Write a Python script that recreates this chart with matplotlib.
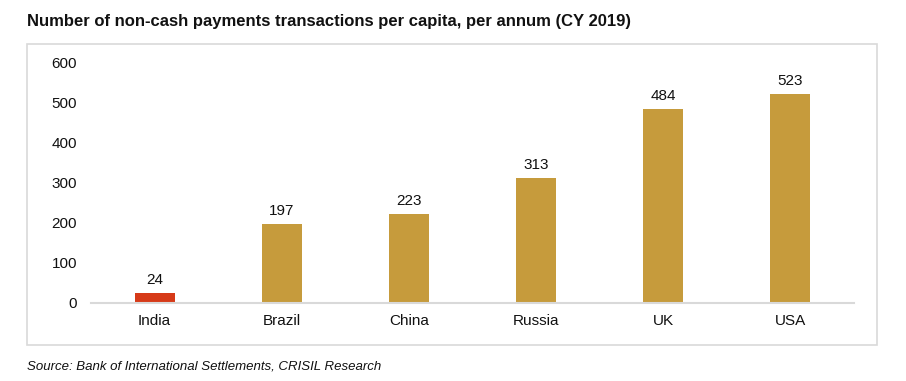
import matplotlib.pyplot as plt
from matplotlib.patches import Rectangle

plt.rcParams["font.family"] = ["Liberation Sans", "DejaVu Sans"]

countries = ["India", "Brazil", "China", "Russia", "UK", "USA"]
txn_per_capita = [24, 197, 223, 313, 484, 523]
bar_colors = ["#D63A18", "#C69B3C", "#C69B3C", "#C69B3C", "#C69B3C", "#C69B3C"]
yticks = [0, 100, 200, 300, 400, 500, 600]

fig = plt.figure(figsize=(9.06, 3.81), dpi=100)

# light grey frame round the chart area
fig.patches.append(Rectangle((27 / 906, 36 / 381), 850 / 906, 301 / 381,
                             transform=fig.transFigure, fill=False,
                             edgecolor="#d9d9d9", linewidth=1.2))

ax = fig.add_axes([91 / 906, 78 / 381, 763 / 906, 240 / 381])
x = range(len(countries))
bars = ax.bar(x, txn_per_capita, width=0.315, color=bar_colors)
for b, v in zip(bars, txn_per_capita):
    ax.annotate(str(v), (b.get_x() + b.get_width() / 2, v), xytext=(0, 4.5),
                textcoords="offset points", ha="center", va="bottom",
                fontsize=11, color="#111111")

ax.set_xlim(-0.5, len(countries) - 0.5)
ax.set_ylim(0, 600)
ax.set_yticks(yticks)
ax.set_xticks(list(x))
ax.set_xticklabels(countries)
ax.tick_params(axis="both", length=0, labelsize=11, colors="#111111")
ax.tick_params(axis="y", pad=10)
ax.tick_params(axis="x", pad=8)
for s in ["top", "right", "left"]:
    ax.spines[s].set_visible(False)
ax.spines["bottom"].set_color("#d9d9d9")
ax.spines["bottom"].set_linewidth(1.5)

fig.text(27 / 906, 0.943, "Number of non-cash payments transactions per capita, per annum (CY 2019)",
         fontsize=12, fontweight="bold", va="center", ha="left", color="#111111")
fig.text(27 / 906, 0.039, "Source: Bank of International Settlements, CRISIL Research",
         fontsize=9.5, style="italic", va="center", ha="left", color="#111111")

fig.savefig("out.png", dpi=100)
